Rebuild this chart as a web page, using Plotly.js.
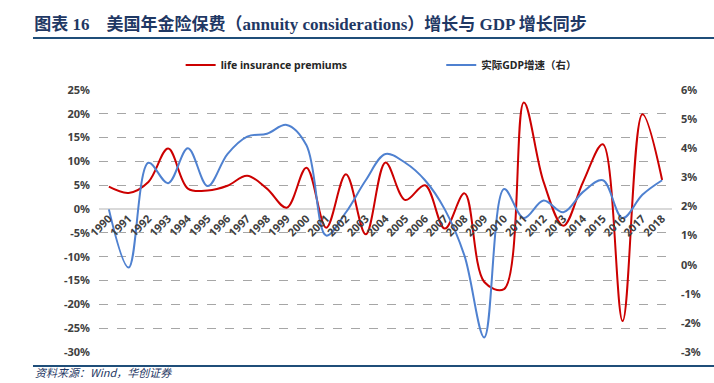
<!DOCTYPE html>
<html>
<head>
<meta charset="utf-8">
<script src="https://cdn.plot.ly/plotly-3.0.1.min.js"></script>
<style>
html,body{margin:0;padding:0;background:#fff;}
#chart{width:714px;height:383px;}
</style>
</head>
<body>
<div id="chart"></div>
<script>
// ---- data ----
const years = ['1990','1991','1992','1993','1994','1995','1996','1997','1998','1999',
  '2000','2001','2002','2003','2004','2005','2006','2007','2008','2009',
  '2010','2011','2012','2013','2014','2015','2016','2017','2018'];
const lifePremiums = [4.7, 3.4, 5.7, 12.7, 4.3, 3.9, 4.9, 7.0, 4.3, 0.3,
  8.7, -3.9, 7.3, -5.3, 9.8, 1.9, 5.0, -4.1, 3.3, -15.3,
  -16.8, 22.4, 5.7, -3.5, 5.7, 13.6, -23.5, 19.9, 6.1];
const realGdp = [1.9, -0.1, 3.5, 2.8, 4.0, 2.7, 3.8, 4.4, 4.5, 4.8,
  4.1, 1.0, 1.8, 2.9, 3.8, 3.5, 2.9, 1.9, 0.3, -2.5,
  2.6, 1.6, 2.2, 1.8, 2.5, 2.9, 1.6, 2.4, 2.9];
const leftTicks = [25, 20, 15, 10, 5, 0, -5, -10, -15, -20, -25, -30];
const leftTickText = ['25%','20%','15%','10%','5%','0%','-5%','-10%','-15%','-20%','-25%','-30%'];
const rightTicks = [6, 5, 4, 3, 2, 1, 0, -1, -2, -3];
const rightTickText = ['6%','5%','4%','3%','2%','1%','0%','-1%','-2%','-3%'];
const seriesNames = ['life insurance premiums', '实际GDP增速（右）'];
const titleText = '图表 16　美国年金险保费（annuity considerations）增长与 GDP 增长同步';
const sourceText = '资料来源：Wind，华创证券';

const tickFont = {family: '"Noto Sans", "Noto Sans CJK SC", sans-serif', size: 11, color: '#404040', weight: 'bold'};
const legendFont = {family: '"Noto Sans", "Noto Sans CJK SC", sans-serif', size: 10.5, color: '#262626', weight: 'bold'};
const navy = '#1F3864';

const traces = [
  {x: years, y: lifePremiums, name: seriesNames[0], type: 'scatter', mode: 'lines',
   line: {color: '#CC0000', width: 2, shape: 'spline', smoothing: 1}, yaxis: 'y', legend: 'legend'},
  {x: years, y: realGdp, name: seriesNames[1], type: 'scatter', mode: 'lines',
   line: {color: '#4F81D0', width: 2, shape: 'spline', smoothing: 1}, yaxis: 'y2', legend: 'legend2'}
];

const layout = {
  width: 714, height: 383,
  margin: {l: 99, r: 42, t: 90, b: 31},
  paper_bgcolor: '#fff', plot_bgcolor: '#fff',
  showlegend: true,
  title: {text: titleText, xref: 'container', yref: 'container', x: 0.048, y: 0.937,
    xanchor: 'left', yanchor: 'middle',
    font: {family: '"Liberation Serif", "Noto Sans CJK SC", serif', size: 17, color: navy, weight: 'bold'}},
  legend: {orientation: 'h', xref: 'container', yref: 'container', x: 0.253, xanchor: 'left',
    y: 1 - 65/383, yanchor: 'middle', bgcolor: 'rgba(0,0,0,0)', font: legendFont},
  legend2: {orientation: 'h', xref: 'container', yref: 'container', x: 0.618, xanchor: 'left',
    y: 1 - 65/383, yanchor: 'middle', bgcolor: 'rgba(0,0,0,0)', font: legendFont},
  xaxis: {type: 'category', range: [-0.5, 28.5], anchor: 'free', position: 30/55,
    showgrid: false, showline: false, zeroline: false, ticks: '',
    tickmode: 'array', tickvals: years, ticktext: years, tickangle: -45,
    tickfont: tickFont, fixedrange: true},
  yaxis: {range: [-30, 25], tickmode: 'array', tickvals: leftTicks, ticktext: leftTickText,
    showgrid: true, gridcolor: '#A6A6A6', griddash: 'dash', gridwidth: 1,
    zeroline: true, zerolinecolor: '#D9D9D9', zerolinewidth: 1.5,
    showline: false, ticks: '', ticklabelstandoff: 8, tickfont: tickFont},
  yaxis2: {range: [-3, 6], overlaying: 'y', side: 'right', tickmode: 'array',
    tickvals: rightTicks, ticktext: rightTickText, showgrid: false, zeroline: false,
    showline: false, ticks: '', ticklabelstandoff: 8, tickfont: tickFont},
  shapes: [
    {type: 'line', xref: 'paper', yref: 'paper', x0: -0.1152, x1: 1.0733, y0: 1.1985, y1: 1.1985,
     line: {color: '#1F4E79', width: 2}},
    {type: 'line', xref: 'paper', yref: 'paper', x0: -0.1152, x1: 1.0733, y0: -0.0534, y1: -0.0534,
     line: {color: '#1F4E79', width: 2}}
  ],
  annotations: [
    {text: sourceText, xref: 'paper', yref: 'paper', x: -0.1152, y: -0.1145,
     xanchor: 'left', yanchor: 'bottom', showarrow: false,
     font: {family: '"Noto Sans CJK SC", sans-serif', size: 11, color: navy, style: 'italic'}}
  ]
};

Plotly.newPlot('chart', traces, layout, {staticPlot: true, displayModeBar: false});
</script>
</body>
</html>
